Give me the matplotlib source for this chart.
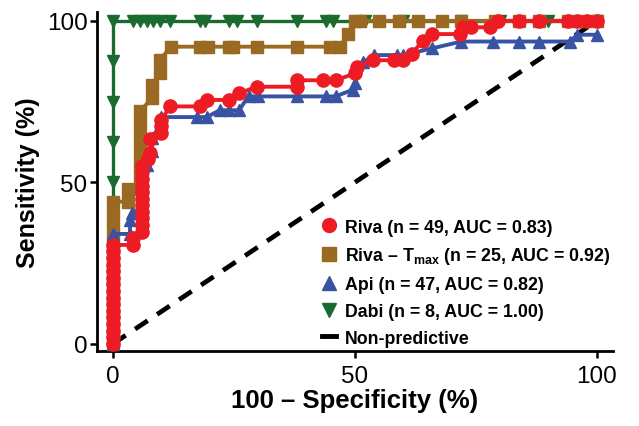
import numpy as np
import matplotlib
matplotlib.use("Agg")
import matplotlib.pyplot as plt
from matplotlib.lines import Line2D

plt.rcParams['font.family'] = ['Liberation Sans', 'DejaVu Sans']
plt.rcParams['mathtext.fontset'] = 'custom'
plt.rcParams['mathtext.rm'] = 'Liberation Sans'
plt.rcParams['mathtext.bf'] = 'Liberation Sans:bold'

# ROC points (x = 100 - specificity, y = sensitivity)
dabi_x = [0, 0, 0, 0, 0, 0, 0, 0, 0, 4.1, 5.6, 7.0, 8.3, 9.7, 11.8, 18, 19, 24, 25.6,
          29.8, 38, 44, 45.5, 52, 60, 72, 80, 90, 100]
dabi_y = [0, 12.5, 25, 37.5, 50, 62.5, 75, 87.5, 100] + [100] * 20

tmax_x = [0] * 12 + [3.1, 3.1, 5.6, 5.6, 5.6, 5.6, 5.6, 5.6, 5.6, 8, 8, 9.7, 9.7, 12,
                     18, 19.6, 24, 24.8, 29.8, 38, 44.8, 47, 48.5, 50, 51, 55, 59, 63,
                     68, 72, 79, 84, 88, 94, 97, 100]
tmax_y = [0, 4, 8, 12, 16, 20, 24, 28, 32, 36, 40, 44,
          44, 48, 48, 52, 56, 60, 64, 68, 72, 76, 80, 84, 88, 92,
          92, 92, 92, 92, 92, 92, 92, 92, 96, 100, 100, 100, 100, 100,
          100, 100, 100, 100, 100, 100, 100, 100]

api_x = [0] * 17 + [3.5, 3.5, 4.0, 6.0, 6.0, 6.0, 7.0, 8.0, 8.0, 10, 10, 17.4, 19.4,
                    22, 24, 26, 28, 30, 38, 44, 46, 49.6, 50, 51.7, 54, 58.7, 60, 66,
                    72, 78.5, 84, 88, 94.4, 96, 100]
api_y = list(np.round(np.arange(17) * 100 / 47, 1)) + [
    34.0, 38.3, 40.4, 42.6, 46.8, 51.1, 55.3, 59.6, 63.8, 68.1, 70.2, 70.2, 70.2,
    72.3, 72.3, 72.3, 76.6, 76.6, 76.6, 76.6, 76.6, 78.7, 80.9, 87.2, 89.4, 89.4,
    89.4, 91.5, 93.6, 93.6, 93.6, 93.6, 93.6, 95.7, 95.7]

riva_x = [0] * 16 + [4.1, 4.1, 6, 6, 6, 6, 6, 6, 6, 6, 6, 6, 6, 7.2, 7.6, 7.6, 10, 10,
                     10, 11.8, 18, 19.4, 24, 26, 29.8, 38, 38, 43.4, 46, 50, 50.4, 53.7,
                     58, 60, 61.8, 64, 66, 71.7, 72.3, 74, 78, 79.5, 84, 88, 94, 96, 98,
                     100]
riva_y = list(np.round(np.arange(16) * 100 / 49, 1)) + [
    30.6, 32.7, 34.7, 36.7, 38.8, 40.8, 42.9, 44.9, 46.9, 49.0, 51.0, 53.1, 55.1,
    57.1, 59.2, 63.3, 65.3, 67.3, 69.4, 73.5, 73.5, 75.5, 75.5, 77.6, 79.6, 79.6,
    81.6, 81.6, 81.6, 83.7, 85.7, 87.8, 87.8, 87.8, 89.8, 93.9, 95.9, 95.9, 98.0,
    98.0, 98.0, 100, 100, 100, 100, 100, 100, 100]

ref_x = [0, 100]
ref_y = [0, 100]

labels = ['Riva (n = 49, AUC = 0.83)',
          r'Riva – T$_{\bf max}$ (n = 25, AUC = 0.92)',
          'Api (n = 47, AUC = 0.82)',
          'Dabi (n = 8, AUC = 1.00)',
          'Non-predictive']

red = '#ed1c24'
brown = '#9b6a22'
blue = '#3953a4'
green = '#1b6a2f'

fig = plt.figure(figsize=(6.39, 4.27), dpi=100)
ax = fig.add_axes([0.152, 0.176, 0.807, 0.794])

ax.plot(ref_x, ref_y, color='black', lw=3.4, dashes=(3.2, 2.4), zorder=1)
ax.plot(dabi_x, dabi_y, color=green, lw=2.4, marker='v', ms=8, zorder=2)
ax.plot(tmax_x, tmax_y, color=brown, lw=2.8, marker='s', ms=9, zorder=3)
ax.plot(api_x, api_y, color=blue, lw=2.8, marker='^', ms=8, zorder=4)
ax.plot(riva_x, riva_y, color=red, lw=2.8, marker='o', ms=9.5, zorder=5)

ax.set_xlim(-3.3, 103.3)
ax.set_ylim(-2.2, 102.8)
ax.set_xticks([0, 50, 100])
ax.set_yticks([0, 50, 100])
ax.tick_params(labelsize=17.5, width=1.8, length=5, pad=2)
ax.tick_params(axis='x', pad=5)
for s in ['top', 'right']:
    ax.spines[s].set_visible(False)
for s in ['left', 'bottom']:
    ax.spines[s].set_linewidth(2)

ax.set_xlabel('100 – Specificity (%)', fontsize=18.5, fontweight='bold', labelpad=1)
ax.set_ylabel('Sensitivity (%)', fontsize=18, fontweight='bold', labelpad=5)

handles = [
    Line2D([], [], color=red, marker='o', ls='none', ms=10),
    Line2D([], [], color=brown, marker='s', ls='none', ms=9.5),
    Line2D([], [], color=blue, marker='^', ls='none', ms=9.5),
    Line2D([], [], color=green, marker='v', ls='none', ms=9.5),
    Line2D([], [], color='black', lw=3.5),
]
leg = ax.legend(handles, labels, loc='lower left', bbox_to_anchor=(0.405, -0.035),
                frameon=False, handlelength=0.8, handletextpad=0.5,
                labelspacing=0.55, prop={'weight': 'bold', 'size': 12.8})

fig.savefig('out.png', dpi=100)
